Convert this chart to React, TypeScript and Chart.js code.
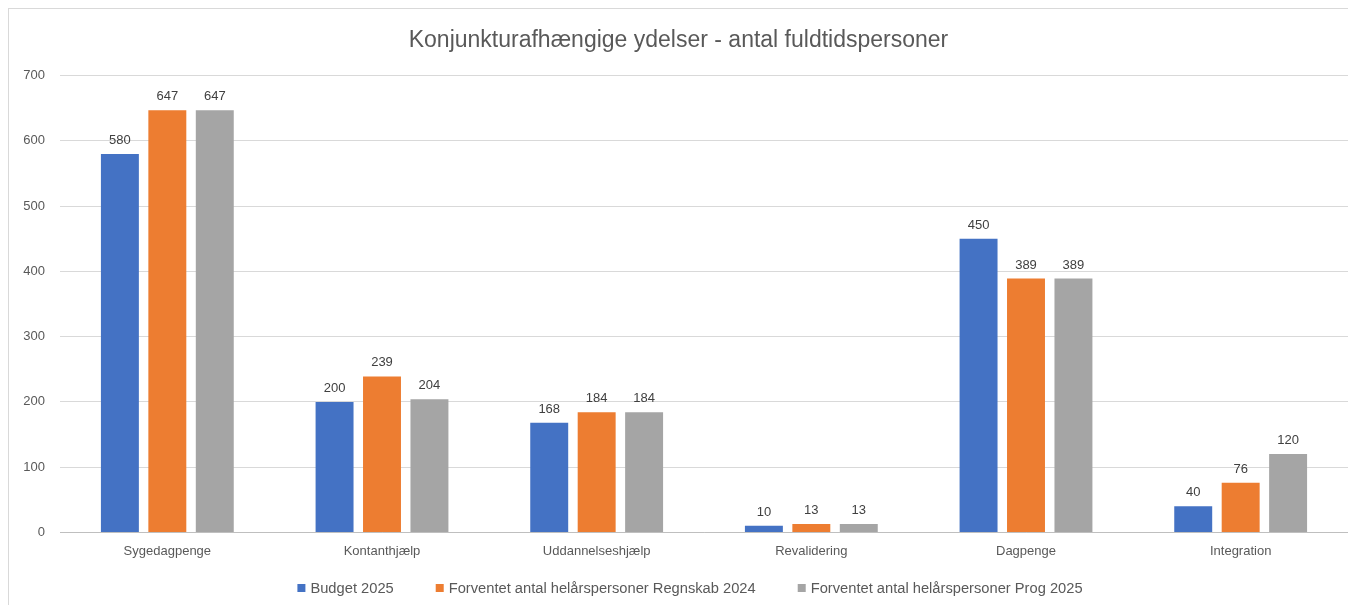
import React, { useEffect, useRef } from "react";
import { Chart, registerables } from "chart.js";

Chart.register(...registerables);

const categories = ["Sygedagpenge", "Kontanthjælp", "Uddannelseshjælp", "Revalidering", "Dagpenge", "Integration"];
const seriesNames = ["Budget 2025", "Forventet antal helårspersoner Regnskab 2024", "Forventet antal helårspersoner Prog 2025"];
const budget2025 = [580, 200, 168, 10, 450, 40];
const regnskab2024 = [647, 239, 184, 13, 389, 76];
const prog2025 = [647, 204, 184, 13, 389, 120];
const colors = ["#4472C4", "#ED7D31", "#A5A5A5"];
const yTicks = [0, 100, 200, 300, 400, 500, 600, 700];

const FONT = "'Liberation Sans', Arial, sans-serif";

const valueLabels = {
  id: "valueLabels",
  afterDatasetsDraw(chart: any) {
    const ctx = chart.ctx;
    ctx.save();
    ctx.font = `13px ${FONT}`;
    ctx.fillStyle = "#404040";
    ctx.textAlign = "center";
    ctx.textBaseline = "alphabetic";
    chart.data.datasets.forEach((ds: any, i: number) => {
      const meta = chart.getDatasetMeta(i);
      meta.data.forEach((bar: any, j: number) => {
        ctx.fillText(String(ds.data[j]), bar.x, bar.y - 10);
      });
    });
    ctx.restore();
  },
};

// Legend drawn on the canvas from the chart's own datasets
const bottomLegend = {
  id: "bottomLegend",
  afterDraw(chart: any) {
    const ctx = chart.ctx;
    const fontSize = 14.7;
    const box = 8;
    const boxGap = 5;
    const itemGap = 42;
    ctx.save();
    ctx.font = `${fontSize}px ${FONT}`;
    const items = chart.data.datasets.map((ds: any) => ({
      text: ds.label,
      color: ds.backgroundColor,
      w: box + boxGap + ctx.measureText(ds.label).width,
    }));
    const total = items.reduce((s: number, it: any) => s + it.w, 0) + itemGap * (items.length - 1);
    const cx = 690 - 9;
    const cy = chart.height - 17;
    let x = cx - total / 2;
    ctx.textBaseline = "middle";
    ctx.textAlign = "left";
    items.forEach((it: any) => {
      ctx.fillStyle = it.color;
      ctx.fillRect(x, cy - box / 2, box, box);
      ctx.fillStyle = "#595959";
      ctx.fillText(it.text, x + box + boxGap, cy + 1);
      x += it.w + itemGap;
    });
    ctx.restore();
  },
};

export default function App() {
  const ref = useRef<HTMLCanvasElement | null>(null);
  useEffect(() => {
    document.body.style.margin = "8px";
    document.body.style.overflow = "hidden";
    const data = [budget2025, regnskab2024, prog2025];
    const chart = new Chart(ref.current!, {
      type: "bar",
      data: {
        labels: categories,
        datasets: seriesNames.map((name, i) => ({
          label: name,
          data: data[i],
          backgroundColor: colors[i],
          categoryPercentage: 0.663,
          barPercentage: 0.8,
        })),
      },
      options: {
        animation: false,
        responsive: true,
        maintainAspectRatio: false,
        layout: { padding: { left: 0, right: 4, top: 8, bottom: 43 } },
        plugins: {
          title: {
            display: true,
            text: "Konjunkturafhængige ydelser - antal fuldtidspersoner",
            color: "#595959",
            font: { family: FONT, size: 23, weight: "normal" },
            padding: { top: 10, bottom: 21 },
          },
          legend: { display: false },
          tooltip: { enabled: false },
        },
        scales: {
          x: {
            grid: { display: false },
            border: { color: "#bfbfbf" },
            ticks: { color: "#595959", font: { family: FONT, size: 13 }, padding: 3 },
          },
          y: {
            min: 0,
            max: 700,
            afterBuildTicks: (axis: any) => {
              axis.ticks = yTicks.map((v) => ({ value: v }));
            },
            afterFit: (axis: any) => {
              axis.width = 51;
            },
            grid: { color: "#d9d9d9", drawTicks: false },
            border: { display: false },
            ticks: { color: "#595959", font: { family: FONT, size: 13 }, padding: 15 },
          },
        },
      },
      plugins: [valueLabels, bottomLegend],
    });
    return () => chart.destroy();
  }, []);
  return (
    <div style={{ width: 1344, height: 597, border: "1px solid #d9d9d9", borderRight: "none", borderBottom: "none", boxSizing: "border-box", background: "#fff" }}>
      <canvas ref={ref} />
    </div>
  );
}
